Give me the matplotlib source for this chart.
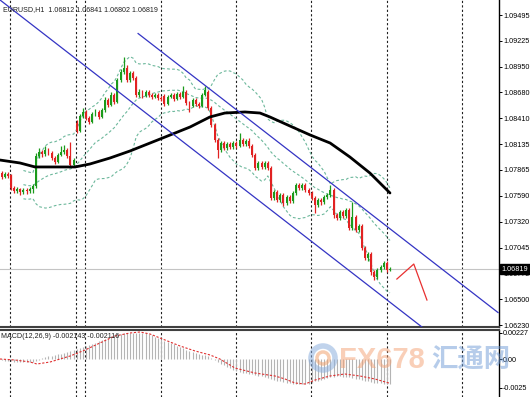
import numpy as np
import pandas as pd
import matplotlib
matplotlib.use("Agg")
import matplotlib.pyplot as plt
from matplotlib.patches import Circle

plt.rcParams['font.family'] = ['Liberation Sans', 'Noto Sans CJK SC', 'DejaVu Sans']

# ---------------- data ----------------
symbol_title = "EURUSD,H1  1.06812 1.06841 1.06802 1.06819"
macd_title = "MACD(12,26,9) -0.002143 -0.002116"

opens = [1.07831, 1.07789, 1.07821, 1.07810, 1.07674, 1.07642, 1.07663, 1.07631, 1.07652, 1.07642,
         1.07663, 1.07695, 1.08011, 1.08053, 1.08032, 1.08074, 1.08042, 1.07990, 1.07947, 1.08021,
         1.08053, 1.08074, 1.08011, 1.07916, 1.08357, 1.08273, 1.08432, 1.08474, 1.08411, 1.08368,
         1.08453, 1.08474, 1.08421, 1.08495, 1.08600, 1.08547, 1.08653, 1.08579, 1.08811, 1.08895,
         1.08937, 1.08811, 1.08884, 1.08832, 1.08653, 1.08684, 1.08642, 1.08684, 1.08653, 1.08632,
         1.08653, 1.08621, 1.08642, 1.08558, 1.08632, 1.08653, 1.08611, 1.08663, 1.08632, 1.08684,
         1.08568, 1.08537, 1.08600, 1.08558, 1.08537, 1.08653, 1.08684, 1.08516, 1.08337, 1.08179,
         1.08074, 1.08147, 1.08095, 1.08137, 1.08105, 1.08147, 1.08116, 1.08179, 1.08137, 1.08168,
         1.08116, 1.08021, 1.07884, 1.07937, 1.07895, 1.07937, 1.07884, 1.07568, 1.07631, 1.07547,
         1.07600, 1.07516, 1.07579, 1.07537, 1.07621, 1.07705, 1.07674, 1.07705, 1.07652, 1.07621,
         1.07568, 1.07495, 1.07547, 1.07526, 1.07579, 1.07600, 1.07652, 1.07389, 1.07358, 1.07421,
         1.07379, 1.07442, 1.07253, 1.07368, 1.07231, 1.07274, 1.07042, 1.06937, 1.06979, 1.06789,
         1.06736, 1.06810, 1.06842, 1.06884, 1.06812]
closes = [1.07789, 1.07821, 1.07800, 1.07674, 1.07642, 1.07663, 1.07631, 1.07652, 1.07642, 1.07663,
          1.07695, 1.08011, 1.08053, 1.08032, 1.08074, 1.08042, 1.07990, 1.07947, 1.08021, 1.08053,
          1.08074, 1.08011, 1.07916, 1.07968, 1.08273, 1.08432, 1.08474, 1.08411, 1.08368, 1.08453,
          1.08474, 1.08421, 1.08495, 1.08600, 1.08547, 1.08653, 1.08579, 1.08811, 1.08895, 1.08937,
          1.08811, 1.08884, 1.08832, 1.08653, 1.08684, 1.08642, 1.08684, 1.08653, 1.08632, 1.08653,
          1.08621, 1.08611, 1.08558, 1.08632, 1.08653, 1.08611, 1.08663, 1.08632, 1.08684, 1.08568,
          1.08537, 1.08600, 1.08558, 1.08537, 1.08653, 1.08705, 1.08516, 1.08337, 1.08179, 1.08074,
          1.08147, 1.08095, 1.08137, 1.08105, 1.08147, 1.08116, 1.08179, 1.08137, 1.08168, 1.08116,
          1.08021, 1.07884, 1.07937, 1.07895, 1.07937, 1.07884, 1.07568, 1.07631, 1.07547, 1.07600,
          1.07516, 1.07579, 1.07537, 1.07621, 1.07705, 1.07674, 1.07705, 1.07652, 1.07621, 1.07568,
          1.07495, 1.07547, 1.07526, 1.07579, 1.07600, 1.07652, 1.07389, 1.07358, 1.07421, 1.07379,
          1.07442, 1.07253, 1.07368, 1.07231, 1.07274, 1.07042, 1.06937, 1.06979, 1.06789, 1.06736,
          1.06810, 1.06842, 1.06884, 1.06810, 1.06819]
highs = [1.07852, 1.07842, 1.07842, 1.07821, 1.07695, 1.07684, 1.07674, 1.07674, 1.07674, 1.07684,
         1.07716, 1.08042, 1.08095, 1.08074, 1.08116, 1.08095, 1.08063, 1.08011, 1.08042, 1.08116,
         1.08126, 1.08095, 1.08158, 1.07990, 1.08389, 1.08453, 1.08516, 1.08495, 1.08432, 1.08474,
         1.08505, 1.08495, 1.08516, 1.08632, 1.08621, 1.08684, 1.08674, 1.08832, 1.08926, 1.09053,
         1.08969, 1.08905, 1.08905, 1.08853, 1.08716, 1.08705, 1.08705, 1.08705, 1.08674, 1.08674,
         1.08674, 1.08642, 1.08663, 1.08653, 1.08674, 1.08674, 1.08684, 1.08684, 1.08747, 1.08705,
         1.08589, 1.08621, 1.08621, 1.08579, 1.08674, 1.08747, 1.08705, 1.08537, 1.08358, 1.08200,
         1.08168, 1.08168, 1.08158, 1.08158, 1.08168, 1.08168, 1.08252, 1.08200, 1.08189, 1.08200,
         1.08137, 1.08042, 1.07958, 1.07958, 1.07958, 1.07958, 1.07905, 1.07652, 1.07652, 1.07621,
         1.07621, 1.07600, 1.07600, 1.07642, 1.07726, 1.07726, 1.07726, 1.07726, 1.07674, 1.07642,
         1.07589, 1.07568, 1.07568, 1.07600, 1.07621, 1.07705, 1.07674, 1.07410, 1.07442, 1.07442,
         1.07463, 1.07463, 1.07526, 1.07389, 1.07295, 1.07295, 1.07063, 1.07000, 1.07000, 1.06810,
         1.06831, 1.06863, 1.06905, 1.06905, 1.06841]
lows = [1.07768, 1.07779, 1.07779, 1.07652, 1.07621, 1.07621, 1.07600, 1.07610, 1.07610, 1.07621,
        1.07621, 1.07674, 1.07990, 1.08000, 1.08011, 1.08021, 1.07968, 1.07926, 1.07937, 1.08011,
        1.08032, 1.07990, 1.07895, 1.07905, 1.08252, 1.08263, 1.08411, 1.08389, 1.08347, 1.08358,
        1.08432, 1.08400, 1.08411, 1.08474, 1.08526, 1.08537, 1.08558, 1.08568, 1.08790, 1.08874,
        1.08790, 1.08790, 1.08811, 1.08632, 1.08632, 1.08621, 1.08632, 1.08632, 1.08611, 1.08621,
        1.08600, 1.08589, 1.08537, 1.08547, 1.08621, 1.08589, 1.08600, 1.08611, 1.08621, 1.08547,
        1.08474, 1.08526, 1.08537, 1.08516, 1.08526, 1.08642, 1.08495, 1.08316, 1.08158, 1.07990,
        1.08053, 1.08074, 1.08074, 1.08084, 1.08084, 1.08095, 1.08105, 1.08116, 1.08116, 1.08095,
        1.08000, 1.07863, 1.07863, 1.07874, 1.07874, 1.07863, 1.07547, 1.07547, 1.07526, 1.07526,
        1.07484, 1.07495, 1.07516, 1.07516, 1.07600, 1.07652, 1.07652, 1.07631, 1.07600, 1.07547,
        1.07410, 1.07474, 1.07495, 1.07505, 1.07558, 1.07579, 1.07358, 1.07337, 1.07337, 1.07358,
        1.07358, 1.07231, 1.07231, 1.07210, 1.07210, 1.07021, 1.06915, 1.06905, 1.06757, 1.06705,
        1.06715, 1.06789, 1.06821, 1.06789, 1.06802]

# long moving average (black line), read at bar positions
ma_bars = [-0.5, 5.9, 10.7, 23.5, 28.2, 34.6, 41.0, 50.6, 60.2, 66.5, 71.3, 77.7,
           82.5, 85.7, 92.1, 98.5, 104.9, 111.2, 117.6, 124.0]
ma_values = [1.07968, 1.07937, 1.07895, 1.07895, 1.07926, 1.07989, 1.08063, 1.08189,
             1.08316, 1.08421, 1.08463, 1.08474, 1.08463, 1.08421, 1.08326, 1.08232,
             1.08147, 1.08000, 1.07831, 1.07621]

# MACD main values (histogram), one per bar
macd_main = [-0.000087, -0.000131, -0.000174, -0.000174, -0.000218, -0.000261, -0.000261, -0.000261,
             -0.000261, -0.000261, -0.000218, -0.000131, -0.000044, 0.000087, 0.000174, 0.000218,
             0.000261, 0.000348, 0.000392, 0.000435, 0.000522, 0.000609, 0.000696, 0.000740,
             0.000827, 0.000914, 0.001001, 0.001088, 0.001175, 0.001305, 0.001392, 0.001523,
             0.001610, 0.001740, 0.001827, 0.001958, 0.002045, 0.002132, 0.002175, 0.002219,
             0.002262, 0.002262, 0.002262, 0.002262, 0.002262, 0.002262, 0.002219, 0.002132,
             0.002045, 0.001914, 0.001784, 0.001697, 0.001566, 0.001479, 0.001349, 0.001262,
             0.001131, 0.001001, 0.000914, 0.000783, 0.000696, 0.000609, 0.000522, 0.000435,
             0.000348, 0.000305, 0.000218, 0.000087, -0.000044, -0.000218, -0.000392, -0.000522,
             -0.000653, -0.000783, -0.000957, -0.001044, -0.001131, -0.001175, -0.001218, -0.001262,
             -0.001305, -0.001349, -0.001436, -0.001479, -0.001566, -0.001610, -0.001697, -0.001784,
             -0.001871, -0.001914, -0.002001, -0.002045, -0.002088, -0.002132, -0.002175, -0.002175,
             -0.002175, -0.002175, -0.002132, -0.002045, -0.001914, -0.001871, -0.001784, -0.001697,
             -0.001610, -0.001566, -0.001523, -0.001479, -0.001479, -0.001523, -0.001523, -0.001566,
             -0.001610, -0.001697, -0.001740, -0.001784, -0.001871, -0.001957, -0.002001, -0.002045,
             -0.002088, -0.002110, -0.002132, -0.002140, -0.002143]
# MACD signal line, read at bar positions
signal_bars = [-0.5, 4.3, 9.1, 11.3, 15.5, 18.7, 21.9, 26.7, 31.4, 36.2, 41.0, 44.2, 47.4,
               52.2, 57.0, 61.8, 66.6, 69.7, 74.5, 80.9, 87.3, 90.5, 93.7, 96.9, 100.1,
               104.8, 109.6, 114.4, 119.2, 124.0]
signal_values = [0.0, -0.000087, -0.000261, -0.000435, -0.000261, 0.0, 0.000261, 0.000783,
                 0.001392, 0.002001, 0.002262, 0.002349, 0.002175, 0.001653, 0.001131, 0.000696,
                 0.000348, 0.0, -0.000783, -0.001218, -0.001479, -0.001740, -0.002088, -0.002175,
                 -0.001827, -0.001479, -0.001305, -0.001479, -0.001740, -0.002116]

# channel trend lines (anchor points)
channel_lower_bars = [-0.5, 134.2]
channel_lower_prices = [1.09654, 1.06210]
channel_upper_bars = [43.6, 158.5]
channel_upper_prices = [1.09300, 1.06362]

# hand drawn red zig-zag
arrow_bars = [126.2, 131.6, 135.8]
arrow_prices = [1.06715, 1.06873, 1.06494]

day_breaks = [2.7, 23.8, 26.7, 50.9, 74.9, 98.8, 123.0, 147.0]

price_ticks = [1.09495, 1.09225, 1.08950, 1.08680, 1.08410, 1.08135, 1.07865,
               1.07590, 1.07320, 1.07045, 1.06775, 1.06500, 1.06230]
macd_ticks = [0.00227, 0.0, -0.00252]
macd_tick_labels = ["0.00227", "0.00", "-0.0025"]
current_price = 1.06819

# ---------------- figure ----------------
W, H = 530, 397
fig = plt.figure(figsize=(W / 100, H / 100), dpi=100)
fig.patch.set_facecolor('white')

ax = fig.add_axes([0, 1 - 327 / H, 499 / W, 327 / H])
ax2 = fig.add_axes([0, 0, 499 / W, 67 / H])

xlim = (-0.479, 158.8)
ax.set_xlim(*xlim)
ax2.set_xlim(*xlim)
ax.set_ylim(1.06210, 1.09653)
ax2.set_ylim(-0.003306, 0.002523)

green = '#1b9a1b'
red = '#e12222'
label_fs = 5.2

x = np.arange(len(closes))
o = np.array(opens)
c = np.array(closes)
hi = np.array(highs)
lo = np.array(lows)
up = c >= o
cols = np.where(up, green, red)

# grid (day separators)
for b in day_breaks:
    ax.axvline(b, color='#202020', lw=0.8, ls=(0, (2, 2)), zorder=1)
    ax2.axvline(b, color='#202020', lw=0.8, ls=(0, (2, 2)), zorder=1)

# current price line
ax.axhline(current_price, color='#c4c4c4', lw=0.8, zorder=1)

# Bollinger bands from the closes
s = pd.Series(closes)
mid = s.rolling(20, min_periods=8).mean()
sd = s.rolling(20, min_periods=8).std(ddof=0)
bb_col = '#6db89c'
for line in (mid, mid + 2 * sd, mid - 2 * sd):
    ax.plot(x, line, color=bb_col, lw=0.8, ls=(0, (2.5, 2)), zorder=2)

# candles
ax.vlines(x, lo, hi, colors=cols, lw=0.9, zorder=3)
ax.bar(x, np.maximum(np.abs(c - o), 0.00004), bottom=np.minimum(o, c), width=0.62,
       color=cols, linewidth=0, zorder=4)

# moving average
ax.plot(ma_bars, ma_values, color='black', lw=2.0, zorder=5, solid_capstyle='round')

# channel
ax.plot(channel_lower_bars, channel_lower_prices, color='#3434c4', lw=0.9, zorder=5)
ax.plot(channel_upper_bars, channel_upper_prices, color='#3434c4', lw=0.9, zorder=5)

# red zig-zag
ax.plot(arrow_bars, arrow_prices, color='#e83030', lw=0.9, zorder=5)

# axes styling
for a in (ax, ax2):
    a.set_xticks([])
    a.yaxis.tick_right()
    a.spines['left'].set_visible(False)
    a.spines['right'].set_color('black')
    a.spines['right'].set_linewidth(1.0)
    a.tick_params(axis='y', direction='out', length=2.0, width=0.7, pad=1.0,
                  labelsize=label_fs, colors='black')
ax.spines['top'].set_visible(False)
ax.spines['bottom'].set_color('#404040')
ax.spines['bottom'].set_linewidth(1.5)
ax2.spines['bottom'].set_visible(False)
ax2.spines['top'].set_color('#404040')
ax2.spines['top'].set_linewidth(1.5)

ax.set_yticks(price_ticks)
ax.set_yticklabels(["%.5f" % v for v in price_ticks])
ax2.set_yticks(macd_ticks)
ax2.set_yticklabels(macd_tick_labels)

# current price tag
ax.text(1.005, current_price, "%.5f" % current_price, transform=ax.get_yaxis_transform(),
        fontsize=label_fs, color='white', va='center', ha='left', zorder=10, clip_on=False,
        bbox=dict(boxstyle='square,pad=0.22', facecolor='black', edgecolor='black'))

# MACD
ax2.vlines(x, 0, macd_main, colors='#b4b4b4', lw=0.8, zorder=2)
ax2.plot(signal_bars, signal_values, color='#e03030', lw=0.8, ls=(0, (2, 1.5)), zorder=3)

# titles
fig.text(3 / W, 1 - 9.5 / H, symbol_title, fontsize=5.1, color='#202020', va='center', ha='left')
fig.text(1 / W, 1 - 336 / H, macd_title, fontsize=5.1, color='#202020', va='center', ha='left')

# watermark
trans_px = fig.dpi_scale_trans
ring = Circle((323 / 100, (H - 358) / 100), 0.12, transform=trans_px, fill=False,
              edgecolor='#8db0de', lw=4, alpha=0.55)
ring2 = Circle((323 / 100, (H - 358) / 100), 0.06, transform=trans_px, fill=False,
               edgecolor='#f2a36f', lw=2.5, alpha=0.55)
fig.patches.extend([ring, ring2])
fig.text(339 / W, 1 - 360 / H, "FX678", fontsize=21, fontweight='bold', color='#f4a072',
         alpha=0.5, va='center', ha='left', family=['Liberation Sans', 'DejaVu Sans'])
fig.text(431 / W, 1 - 360 / H, "汇通网", fontsize=19, fontweight='bold', color='#6f9bd6',
         alpha=0.5, va='center', ha='left', family=['Noto Sans CJK SC', 'DejaVu Sans'])

fig.savefig("out.png", dpi=100)
